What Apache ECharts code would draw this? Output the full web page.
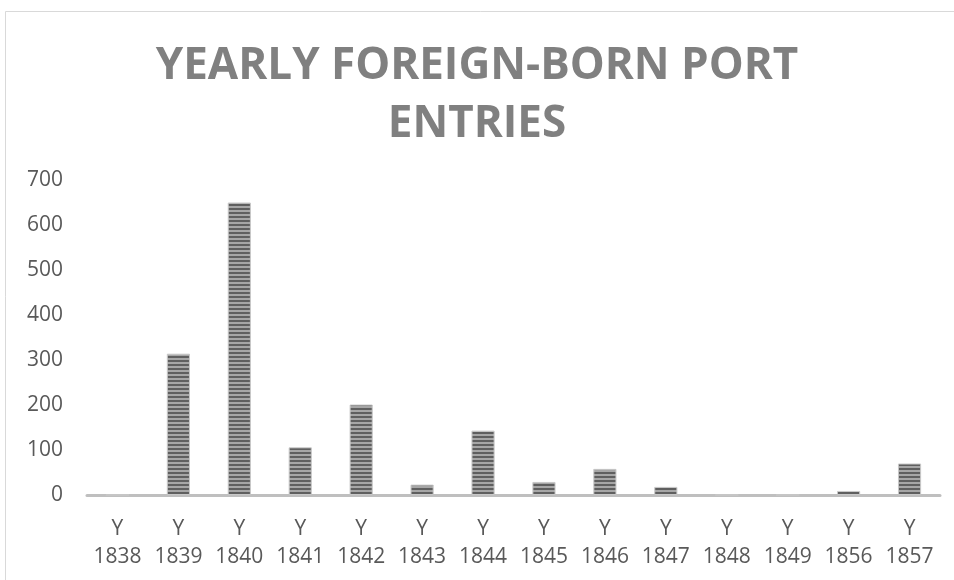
<!DOCTYPE html>
<html><head><meta charset="utf-8">
<script src="https://cdn.jsdelivr.net/npm/echarts@6/dist/echarts.min.js"></script>
<style>html,body{margin:0;padding:0;background:#fff}#c{width:954px;height:580px}</style>
</head><body><div id="c"></div>
<script>
const categories = ["Y\n1838","Y\n1839","Y\n1840","Y\n1841","Y\n1842","Y\n1843","Y\n1844","Y\n1845","Y\n1846","Y\n1847","Y\n1848","Y\n1849","Y\n1856","Y\n1857"];
const values = [0, 314, 650, 106, 201, 23, 143, 29, 58, 18, 0, 0, 9, 70];
const yTicks = [0, 100, 200, 300, 400, 500, 600, 700];

const cv = document.createElement('canvas');
cv.width = 4; cv.height = 4;
const ctx = cv.getContext('2d');
ctx.fillStyle = '#a6a6a6'; ctx.fillRect(0,0,4,4);
ctx.fillStyle = '#5f5f5f'; ctx.fillRect(0,0,4,2);

const chart = echarts.init(document.getElementById('c'), null, {renderer:'canvas'});
chart.setOption({
  animation: false,
  backgroundColor: '#fff',
  title: {
    text: 'YEARLY FOREIGN-BORN PORT\nENTRIES',
    left: 'center', top: 32,
    textStyle: {fontFamily: 'Open Sans', fontWeight: 'bold', fontSize: 44, color: '#808080', lineHeight: 58}
  },
  graphic: [{type:'rect', shape:{x:5.5,y:11.5,width:960,height:600}, style:{fill:'none', stroke:'#d9d9d9', lineWidth:1}, silent:true}],
  grid: {left: 87, right: 14, top: 180, bottom: 85, containLabel: false},
  xAxis: {
    type: 'category', data: categories,
    axisLine: {show:true, lineStyle:{color:'#bfbfbf', width:3}},
    axisTick: {show:false},
    axisLabel: {interval: 0, hideOverlap: false, fontFamily:'Open Sans', fontSize: 21, color:'#595959', lineHeight: 28, margin: 20}
  },
  yAxis: {
    type: 'value', min: yTicks[0], max: yTicks[yTicks.length-1], interval: 100,
    axisLine:{show:false}, axisTick:{show:false}, splitLine:{show:false},
    axisLabel: {fontFamily:'Open Sans', fontSize: 21, color:'#595959', margin: 24}
  },
  series: [{
    type: 'bar', data: values, barWidth: '38%',
    itemStyle: {color: {image: cv, repeat: 'repeat'}, borderColor: '#c8c8c8', borderWidth: 1}
  }]
});
</script></body></html>
